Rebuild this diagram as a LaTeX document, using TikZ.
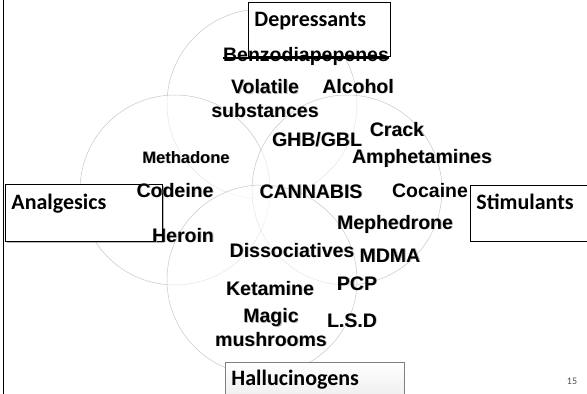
\documentclass[tikz,border=0pt]{standalone}
\usepackage{fontspec}
\setmainfont{Liberation Sans}
\newfontfamily\boxfont{Carlito}
\usetikzlibrary{shadows}

\pgfdeclareradialshading{ringglow}{\pgfpoint{0bp}{0bp}}{color(0bp)=(white); color(38bp)=(white); color(50bp)=(black!8)}
\newcommand\shtext[1]{\rlap{\hspace{0.8pt}\raisebox{-0.8pt}{\textcolor{black!28}{#1}}}#1}

\begin{document}
\begin{tikzpicture}[x=1pt,y=-1pt,
  ring/.style={circle,minimum size=190pt,inner sep=0pt,shading=ringglow,fill opacity=0.55,draw=black!22,draw opacity=1,line width=0.5pt},
  catbox/.style={draw,line width=0.9pt,fill=white,anchor=north west,inner sep=0pt,inner xsep=6pt,align=left,font=\boxfont\bfseries\fontsize{22}{25}\selectfont},
  drug/.style={anchor=base,inner sep=0pt,align=center,font=\bfseries\fontsize{19.5}{23.5}\selectfont},
  smalldrug/.style={drug,font=\bfseries\fontsize{16.5}{19}\selectfont}]
  \useasboundingbox (0,0) rectangle (587,394);

  % the four circles
  \node[ring] (deprring) at (262,104) {};
  \node[ring] (analring) at (175,190) {};
  \node[ring] (stimring) at (347,190) {};
  \node[ring] (hallring) at (262,280) {};

  % frame on the left
  \coordinate (frametop) at (3.5,0);
  \coordinate (framebot) at (3.5,394);
  \draw[line width=1.6pt] (frametop) -- (framebot);

  % category boxes
  \node[catbox,text width=130pt,text height=24pt,text depth=30pt] (depr) at (248,2) {Depressants};
  \node[catbox,text width=145pt,text height=25pt,text depth=32pt,
        drop shadow={shadow xshift=2pt,shadow yshift=-2pt,fill=black!55}] (anal) at (5,184) {Analgesics};
  \node[catbox,text width=120pt,text height=24pt,text depth=32pt] (stim) at (470,185) {Stimulants};
  \node[catbox,draw=black!50,top color=white,bottom color=black!7,text width=167pt,text height=23pt,text depth=15pt] (hall) at (225,362) {Hallucinogens};

  % drugs
  \node[drug] (benzo) at (306,61) {Benzodiapepenes};
  \draw[line width=1.2pt] ([yshift=3pt]benzo.base west) -- ([yshift=3pt]benzo.base east);
  \node[drug] (volatile) at (265,117) {\shtext{Volatile}\\\shtext{substances}};
  \node[drug] (alcohol) at (358,93) {\shtext{Alcohol}};
  \node[drug] (ghb) at (317,146) {\shtext{GHB/GBL}};
  \node[drug] (crack) at (397,136) {\shtext{Crack}};
  \node[drug] (amph) at (422,163) {\shtext{Amphetamines}};
  \node[smalldrug] (methadone) at (186,163) {\shtext{Methadone}};
  \node[drug] (codeine) at (175,197) {\shtext{Codeine}};
  \node[drug] (cannabis) at (311,198) {\shtext{CANNABIS}};
  \node[drug] (cocaine) at (430,197) {Cocaine};
  \node[drug] (meph) at (395,229) {\shtext{Mephedrone}};
  \node[drug] (heroin) at (183,242) {\shtext{Heroin}};
  \node[drug] (dissoc) at (292,257) {\shtext{Dissociatives}};
  \node[drug] (mdma) at (390,262) {\shtext{MDMA}};
  \node[drug] (ketamine) at (270,295) {\shtext{Ketamine}};
  \node[drug] (pcp) at (357,290) {\shtext{PCP}};
  \node[drug] (magic) at (271,346) {\shtext{Magic}\\\shtext{mushrooms}};
  \node[drug] (lsd) at (352,327) {\shtext{L.S.D}};

  \node[anchor=base,text=black!70,font=\boxfont\fontsize{10}{12}\selectfont] (pagenum) at (572,384) {15};
\end{tikzpicture}
\end{document}
